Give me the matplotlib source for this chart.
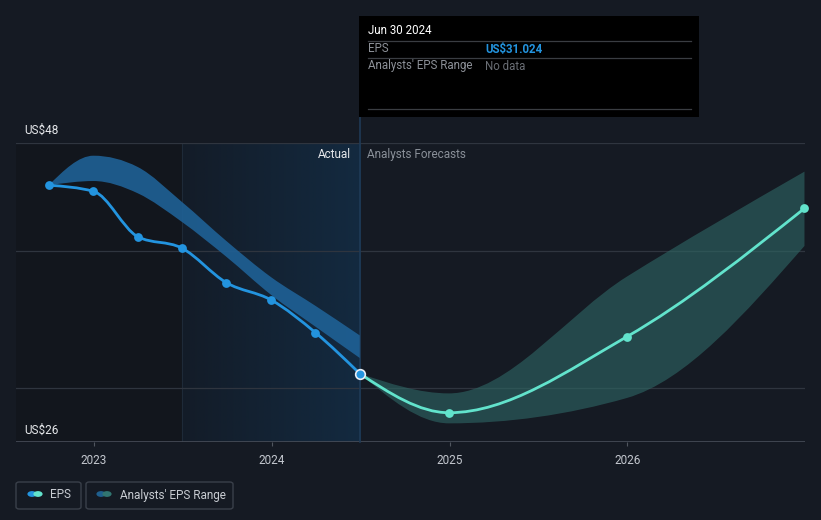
import numpy as np
import matplotlib
matplotlib.use("Agg")
import matplotlib.pyplot as plt
from matplotlib.path import Path
from matplotlib.patches import PathPatch, Rectangle, FancyBboxPatch, Circle
from matplotlib.colors import LinearSegmentedColormap

plt.rcParams["font.family"] = ["Roboto", "DejaVu Sans"]

# ------------------------------------------------------------------
# Data, dates as fractional years
# ------------------------------------------------------------------
actual_t = [2022.745, 2022.997, 2023.246, 2023.493, 2023.745, 2023.997, 2024.246, 2024.495]
actual_eps = [44.86, 44.41, 41.08, 40.25, 37.70, 36.43, 34.03, 31.024]

past_range_hi = [44.86, 47.03, 46.2, 43.65, 40.76, 38.1, 36.0, 33.83]
past_range_lo = [44.86, 45.17, 44.27, 42.18, 39.6, 36.8, 34.47, 32.17]

fc_t = [2024.495, 2024.997, 2025.997, 2026.997]
fc_eps = [31.024, 28.15, 33.73, 43.16]
fc_hi = [31.024, 29.57, 38.14, 45.86]
fc_lo = [31.024, 27.37, 29.23, 40.4]

y_ticks = [26, 30, 40, 48]
x_ticks = [2023, 2024, 2025, 2026]

BG = "#151a23"
BLUE = "#2394df"
TEAL = "#62e3cc"
W, H = 821, 520


def px(x, y):
    return x / W, 1 - y / H


def monotone_codes(x, y):
    """Bezier control points for a monotone-x cubic through the points."""
    x = np.asarray(x, float)
    y = np.asarray(y, float)
    n = len(x)
    h = np.diff(x)
    s = np.diff(y) / h
    m = np.zeros(n)
    for i in range(1, n - 1):
        p = (s[i - 1] * h[i] + s[i] * h[i - 1]) / (h[i - 1] + h[i])
        m[i] = (np.sign(s[i - 1]) + np.sign(s[i])) * min(abs(s[i - 1]), abs(s[i]), 0.5 * abs(p))
    m[0] = (3 * s[0] - m[1]) / 2 if n > 2 else s[0]
    m[-1] = (3 * s[-1] - m[-2]) / 2 if n > 2 else s[-1]
    verts = [(x[0], y[0])]
    codes = [Path.MOVETO]
    for i in range(n - 1):
        d = h[i] / 3
        verts += [(x[i] + d, y[i] + m[i] * d), (x[i + 1] - d, y[i + 1] - m[i + 1] * d), (x[i + 1], y[i + 1])]
        codes += [Path.CURVE4] * 3
    return verts, codes


def curve(x, y):
    v, c = monotone_codes(x, y)
    return Path(v, c)


def band(x, lo, hi):
    x, lo, hi = np.asarray(x), np.asarray(lo), np.asarray(hi)
    v1, c1 = monotone_codes(x, hi)
    v2, c2 = monotone_codes(x[::-1], lo[::-1])
    c2[0] = Path.LINETO
    return Path(v1 + v2 + [v1[0]], c1 + c2 + [Path.CLOSEPOLY])


fig = plt.figure(figsize=(W / 100, H / 100), dpi=100, facecolor=BG)
x0, y0 = px(16, 442)
x1, y1 = px(805, 142.5)
ax = fig.add_axes([x0, y0, x1 - x0, y1 - y0])
ax.set_facecolor(BG)
ax.set_xlim(2022.561, 2027.0)
ax.set_ylim(26, 48)

# shaded history regions
ax.axvspan(2022.561, actual_t[3], color="#12161d", zorder=0, lw=0)
grad = np.linspace(0, 1, 256).reshape(1, -1)
cmap = LinearSegmentedColormap.from_list("g", ["#131c28", "#132a40"])
ax.imshow(grad, extent=[actual_t[3], actual_t[-1], 26, 48], aspect="auto", cmap=cmap, zorder=0.5)
ax.axvline(actual_t[3], color="#1e2a38", lw=0.8, zorder=0.6)

for yv in y_ticks[1:]:
    ax.axhline(yv, color="#2f353f", lw=0.9, zorder=1)
ax.axhline(26, color="#474d58", lw=1.2, zorder=1)

# divider between actual and forecast
ax.plot([actual_t[-1]] * 2, [26, 51.4], color="#1f3a56", lw=1.2, zorder=1, clip_on=False)

# analyst ranges
ax.add_patch(PathPatch(band(actual_t, past_range_lo, past_range_hi),
                       facecolor="#1f6196", edgecolor="none", alpha=0.9, zorder=2))
ax.add_patch(PathPatch(band(fc_t, fc_lo, fc_hi),
                       facecolor="#2e6664", edgecolor="none", alpha=0.62, zorder=2))

# EPS lines
ax.add_patch(PathPatch(curve(actual_t, actual_eps), facecolor="none", edgecolor=BLUE, lw=2, zorder=3))
ax.add_patch(PathPatch(curve(fc_t, fc_eps), facecolor="none", edgecolor=TEAL, lw=2, zorder=3))
ax.scatter(actual_t[:-1], actual_eps[:-1], s=40, color=BLUE, zorder=4, lw=0)
ax.scatter(fc_t[1:], fc_eps[1:], s=40, color=TEAL, zorder=4, lw=0, clip_on=False)
ax.scatter([actual_t[-1]], [actual_eps[-1]], s=48, color=BLUE, edgecolor="#e8eef5", lw=1.2, zorder=5)

ax.set_xticks(x_ticks)
ax.set_xticklabels([str(v) for v in x_ticks], color="#c3c7ce", fontsize=8.5)
ax.tick_params(axis="x", length=3, color="#50565f", pad=6)
ax.set_yticks([])
for sp in ax.spines.values():
    sp.set_visible(False)

# y labels and section labels
fig.text(*px(24, 130), "US$48", color="#e6e8eb", fontsize=8.5, va="center", ha="left")
fig.text(*px(24, 430), "US$26", color="#e6e8eb", fontsize=8.5, va="center", ha="left")
fig.text(*px(351, 154), "Actual", color="#e6e8eb", fontsize=8.5, va="center", ha="right")
fig.text(*px(367, 154), "Analysts Forecasts", color="#8a9099", fontsize=8.5, va="center", ha="left")

# tooltip
fig.patches.append(Rectangle(px(359, 117), 340 / W, 101 / H, transform=fig.transFigure,
                             facecolor="#000000", edgecolor="none"))
for yl in (41, 58, 109):
    fig.lines.append(plt.Line2D([368 / W, 691 / W], [1 - yl / H] * 2, transform=fig.transFigure,
                                color="#3a3d42", lw=0.9))
fig.text(*px(368, 31), "Jun 30 2024", color="#ffffff", fontsize=8.3, va="center")
fig.text(*px(368, 49), "EPS", color="#8d9198", fontsize=8.3, va="center")
fig.text(*px(485, 49), "US$31.024", color=BLUE, fontsize=8.3, va="center", fontweight="bold")
fig.text(*px(368, 66), "Analysts' EPS Range", color="#8d9198", fontsize=8.3, va="center")
fig.text(*px(485, 66), "No data", color="#6a6e75", fontsize=8.3, va="center")

# legend
for bx, bw in ((16, 65), (86, 147)):
    fig.patches.append(FancyBboxPatch(px(bx, 509), bw / W, 27 / H, transform=fig.transFigure,
                                      boxstyle="round,pad=0,rounding_size=0.004",
                                      facecolor="none", edgecolor="#3a404a", lw=1))
for cx, col in ((32, BLUE), (38, TEAL), (101, "#1f5f8e"), (107, "#317571")):
    fig.patches.append(Circle(px(cx, 494), 4.6 / W, transform=fig.transFigure, facecolor=col,
                              edgecolor="none"))
fig.text(*px(50, 495), "EPS", color="#c8ccd2", fontsize=8.5, va="center")
fig.text(*px(120, 495), "Analysts' EPS Range", color="#c8ccd2", fontsize=8.5, va="center")

fig.savefig("out.png", dpi=100, facecolor=BG)
